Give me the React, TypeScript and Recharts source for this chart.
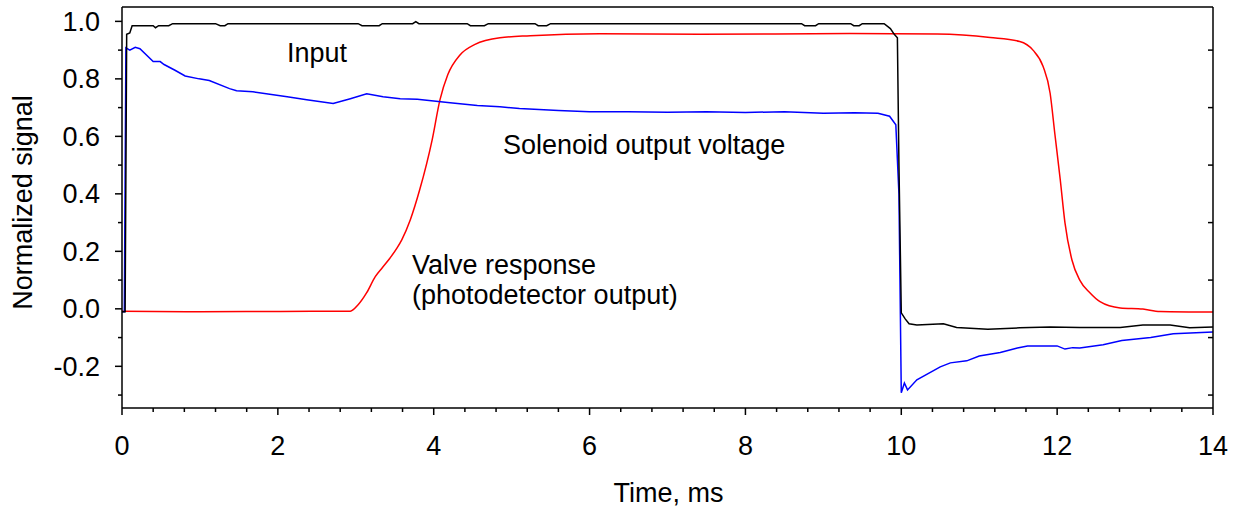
import React from 'react';
import { LineChart, Line, XAxis, YAxis } from 'recharts';

// ---- data (time in ms, normalized signal) ----
const inputSignal: [number, number][] = [
  [0, -0.01], [0.04, -0.01], [0.06, 0.955], [0.1, 0.96], [0.13, 0.985], [0.4, 0.985], [0.43, 0.978],
  [0.47, 0.985], [0.6, 0.985], [0.65, 0.992], [1.2, 0.992], [1.26, 0.985], [1.32, 0.985], [1.36, 0.992],
  [3.03, 0.992], [3.08, 0.985], [3.3, 0.985], [3.34, 0.992], [3.73, 0.992], [3.77, 0.999], [3.81, 0.992],
  [4.43, 0.992], [4.47, 0.985], [4.65, 0.985], [4.7, 0.992], [5.3, 0.992], [5.34, 0.985], [5.45, 0.985],
  [5.5, 0.992], [8.72, 0.992], [8.76, 0.985], [8.9, 0.985], [8.94, 0.992], [9.35, 0.992], [9.39, 0.985],
  [9.46, 0.985], [9.5, 0.992], [9.78, 0.992], [9.86, 0.975], [9.91, 0.955], [9.95, 0.943], [9.97, 0.5],
  [10.0, -0.014], [10.05, -0.035], [10.1, -0.052], [10.2, -0.056], [10.54, -0.052], [10.71, -0.065],
  [11.11, -0.071], [11.52, -0.066], [11.91, -0.063], [12.29, -0.065], [12.81, -0.065], [13.1, -0.056],
  [13.45, -0.056], [13.7, -0.066], [14, -0.063],
];

const solenoidVoltage: [number, number][] = [
  [0, -0.01], [0.03, -0.01], [0.05, 0.908], [0.1, 0.9], [0.17, 0.91], [0.23, 0.905], [0.4, 0.86],
  [0.49, 0.86], [0.54, 0.85], [0.68, 0.83], [0.81, 0.81], [0.99, 0.8], [1.12, 0.794], [1.38, 0.766],
  [1.47, 0.759], [1.68, 0.755], [2.12, 0.738], [2.37, 0.727], [2.71, 0.714], [2.93, 0.731], [3.14, 0.748],
  [3.35, 0.738], [3.57, 0.731], [3.79, 0.729], [4.21, 0.717], [4.56, 0.707], [4.85, 0.703], [5.1, 0.697],
  [5.6, 0.69], [6.0, 0.686], [6.5, 0.686], [7.0, 0.684], [7.5, 0.686], [8.0, 0.683], [8.5, 0.686],
  [9.0, 0.68], [9.4, 0.682], [9.7, 0.68], [9.85, 0.67], [9.93, 0.64], [9.97, 0.4], [10.0, -0.292],
  [10.04, -0.258], [10.08, -0.282], [10.2, -0.247], [10.5, -0.202], [10.63, -0.188], [10.84, -0.181],
  [11.0, -0.164], [11.27, -0.152], [11.49, -0.136], [11.62, -0.129], [12.0, -0.129], [12.1, -0.14],
  [12.2, -0.135], [12.29, -0.136], [12.59, -0.125], [12.83, -0.11], [13.2, -0.1], [13.49, -0.087],
  [14, -0.081],
];

const valveResponse: [number, number][] = [
  [0, -0.008], [1.0, -0.01], [2.03, -0.009], [2.93, -0.008], [3.03, 0.014], [3.14, 0.056], [3.25, 0.112],
  [3.34, 0.143], [3.44, 0.177], [3.53, 0.212], [3.59, 0.24], [3.7, 0.31], [3.82, 0.414], [3.98, 0.588],
  [4.08, 0.727], [4.18, 0.814], [4.34, 0.884], [4.53, 0.92], [4.85, 0.943], [5.24, 0.95], [6.13, 0.957],
  [7.42, 0.955], [9.34, 0.958], [10.46, 0.956], [11.14, 0.944], [11.52, 0.93], [11.69, 0.9], [11.82, 0.843],
  [11.91, 0.75], [11.97, 0.61], [12.04, 0.449], [12.1, 0.3], [12.19, 0.17], [12.29, 0.1], [12.42, 0.056],
  [12.55, 0.025], [12.81, 0.003], [13.1, -0.001], [13.32, -0.009], [14, -0.011],
];

const xMajorTicks = [0, 2, 4, 6, 8, 10, 12, 14];
const xMinorTicks = [0.4, 0.8, 1.2, 1.6, 2.4, 2.8, 3.2, 3.6, 4.4, 4.8, 5.2, 5.6, 6.4, 6.8, 7.2, 7.6, 8.4, 8.8, 9.2, 9.6, 10.4, 10.8, 11.2, 11.6, 12.4, 12.8, 13.2, 13.6];
const yMajorTicks = [-0.2, 0, 0.2, 0.4, 0.6, 0.8, 1.0];
const yMinorTicks = [-0.3, -0.1, 0.1, 0.3, 0.5, 0.7, 0.9];

const xDomain: [number, number] = [0, 14];
const yDomain: [number, number] = [-0.345, 1.05];

const toRows = (pts: [number, number][]) => pts.map(([t, v]) => ({ t, v }));

const FONT = '"Liberation Sans", Arial, sans-serif';
const axisLine = { stroke: '#000', strokeWidth: 1.5 };

const XTick = (props: any) => {
  const { x, y, payload } = props;
  const major = xMajorTicks.includes(payload.value);
  return (
    <g>
      <line x1={x} x2={x} y1={y} y2={y + (major ? 7 : 4)} stroke="#000" strokeWidth={1.5} />
      {major && (
        <text x={x} y={y + 28} dy="0.71em" textAnchor="middle" fill="#000" fontSize={27} fontFamily={FONT}>
          {String(payload.value)}
        </text>
      )}
    </g>
  );
};

const YTick = (props: any) => {
  const { x, y, payload } = props;
  const major = yMajorTicks.includes(payload.value);
  return (
    <g>
      <line x1={x - (major ? 7 : 4)} x2={x} y1={y} y2={y} stroke="#000" strokeWidth={1.5} />
      {major && (
        <text x={x - 22} y={y} dy="0.355em" textAnchor="end" fill="#000" fontSize={27} fontFamily={FONT}>
          {payload.value.toFixed(1)}
        </text>
      )}
    </g>
  );
};

const RightTick = (props: any) => {
  const { x, y } = props;
  return <line x1={x - 5} x2={x} y1={y} y2={y} stroke="#000" strokeWidth={1.5} />;
};

export default function App() {
  return (
    <div style={{ position: 'absolute', left: 0, top: 0, width: 1239, height: 508, background: '#fff' }}>
      <LineChart width={1239} height={508} margin={{ top: 2, right: 6, bottom: 40, left: 62 }}>
        <XAxis xAxisId="x" type="number" dataKey="t" domain={xDomain} allowDataOverflow
          ticks={[...xMajorTicks, ...xMinorTicks]} interval={0}
          height={60} tickSize={0} tickMargin={0} tick={<XTick />} axisLine={axisLine} tickLine={false} />
        <XAxis xAxisId="top" orientation="top" type="number" dataKey="t" domain={xDomain} allowDataOverflow
          height={5} tick={false} tickLine={false} axisLine={axisLine} />
        <YAxis yAxisId="y" type="number" domain={yDomain} allowDataOverflow
          ticks={[...yMajorTicks, ...yMinorTicks]} interval={0}
          width={60} tickSize={0} tickMargin={0} tick={<YTick />} axisLine={axisLine} tickLine={false} />
        <YAxis yAxisId="right" orientation="right" type="number" domain={yDomain} allowDataOverflow
          ticks={yMinorTicks} interval={0} width={20} tickSize={0} tickMargin={0} tick={<RightTick />}
          axisLine={axisLine} tickLine={false} />
        <Line xAxisId="x" yAxisId="y" data={toRows(valveResponse)} dataKey="v" type="monotone" stroke="#ff0000"
          strokeWidth={1.5} dot={false} isAnimationActive={false} />
        <Line xAxisId="x" yAxisId="y" data={toRows(solenoidVoltage)} dataKey="v" type="linear" stroke="#0000ff"
          strokeWidth={1.5} dot={false} isAnimationActive={false} />
        <Line xAxisId="x" yAxisId="y" data={toRows(inputSignal)} dataKey="v" type="linear" stroke="#000"
          strokeWidth={1.5} dot={false} isAnimationActive={false} />
      </LineChart>
      <svg width={1239} height={508} style={{ position: 'absolute', left: 0, top: 0, pointerEvents: 'none' }}
        fontFamily={FONT} fontSize={27} fill="#000">
        <text x={287} y={61.5}>Input</text>
        <text x={503} y={154}>Solenoid output voltage</text>
        <text x={412} y={274}>Valve response</text>
        <text x={412} y={303.5}>(photodetector output)</text>
        <text x={668.5} y={502} textAnchor="middle">Time, ms</text>
        <text transform="translate(31.5, 202.5) rotate(-90)" textAnchor="middle">Normalized signal</text>
      </svg>
    </div>
  );
}
